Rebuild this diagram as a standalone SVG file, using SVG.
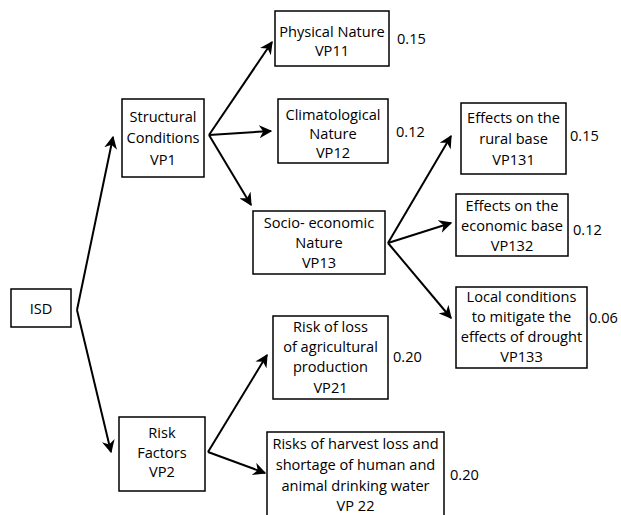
<svg xmlns="http://www.w3.org/2000/svg" width="621" height="515" viewBox="0 0 621 515">
<defs>
<marker id="ah" viewBox="0 0 10 10" refX="9" refY="5" markerWidth="6.5" markerHeight="6.5" markerUnits="strokeWidth" orient="auto">
<path d="M0,0 L10,5 L0,10 L3,5 z" fill="#000"/>
</marker>
<style>
rect{fill:#fff;stroke:#000;stroke-width:1.5}
text{font-family:"Open Sans","Noto Sans",sans-serif;font-size:14.6px;fill:#000}
.c{text-anchor:middle}
#connectors line{stroke:#000;stroke-width:2;marker-end:url(#ah)}
</style>
</defs>
<rect x="0" y="0" width="621" height="515" style="fill:#fff;stroke:none"/>
<g id="connectors">
<line x1="77" y1="310" x2="113" y2="137"/>
<line x1="77" y1="310" x2="111" y2="452"/>
<line x1="209" y1="135" x2="272" y2="42"/>
<line x1="209" y1="135" x2="271" y2="131"/>
<line x1="209" y1="135" x2="251" y2="205"/>
<line x1="388" y1="243" x2="451" y2="136"/>
<line x1="388" y1="243" x2="451" y2="223"/>
<line x1="388" y1="243" x2="451" y2="318"/>
<line x1="208" y1="452" x2="267" y2="355"/>
<line x1="208" y1="452" x2="265" y2="473"/>
</g>
<g id="isd"><rect x="11" y="289" width="60" height="38"/><text class="c" x="41" y="314">ISD</text></g>
<g id="vp1"><rect x="122" y="99" width="82" height="78"/><text class="c" x="163" y="122">Structural</text><text class="c" x="163" y="143">Conditions</text><text class="c" x="163" y="165">VP1</text></g>
<g id="vp11"><rect x="275" y="11" width="114" height="55"/><text class="c" x="332" y="37">Physical Nature</text><text class="c" x="332" y="56">VP11</text><text x="397" y="44">0.15</text></g>
<g id="vp12"><rect x="278" y="99" width="110" height="64"/><text class="c" x="333" y="120">Climatological</text><text class="c" x="333" y="139">Nature</text><text class="c" x="333" y="158">VP12</text><text x="396" y="137">0.12</text></g>
<g id="vp13"><rect x="253" y="211" width="132" height="63"/><text class="c" x="319" y="228">Socio- economic</text><text class="c" x="319" y="248">Nature</text><text class="c" x="319" y="268">VP13</text></g>
<g id="vp131"><rect x="461" y="103" width="105" height="71"/><text class="c" x="513.5" y="123">Effects on the</text><text class="c" x="513.5" y="144">rural base</text><text class="c" x="513.5" y="165">VP131</text><text x="570" y="141">0.15</text></g>
<g id="vp132"><rect x="456" y="194" width="112" height="62"/><text class="c" x="512" y="211">Effects on the</text><text class="c" x="512" y="231">economic base</text><text class="c" x="512" y="251">VP132</text><text x="573" y="235">0.12</text></g>
<g id="vp133"><rect x="456" y="287" width="131" height="81"/><text class="c" x="521.5" y="302">Local conditions</text><text class="c" x="521.5" y="322">to mitigate the</text><text class="c" x="521.5" y="342">effects of drought</text><text class="c" x="521.5" y="362">VP133</text><text x="589" y="323">0.06</text></g>
<g id="vp2"><rect x="119" y="417" width="86" height="74"/><text class="c" x="162" y="438">Risk</text><text class="c" x="162" y="458">Factors</text><text class="c" x="162" y="477">VP2</text></g>
<g id="vp21"><rect x="273" y="316" width="115" height="83"/><text class="c" x="330.5" y="332">Risk of loss</text><text class="c" x="330.5" y="352">of agricultural</text><text class="c" x="330.5" y="372">production</text><text class="c" x="330.5" y="393">VP21</text><text x="393" y="362">0.20</text></g>
<g id="vp22"><rect x="267" y="432" width="177" height="90"/><text class="c" x="355.5" y="449">Risks of harvest loss and</text><text class="c" x="355.5" y="470">shortage of human and</text><text class="c" x="355.5" y="491">animal drinking water</text><text class="c" x="355.5" y="511">VP 22</text><text x="450" y="480">0.20</text></g>
</svg>
